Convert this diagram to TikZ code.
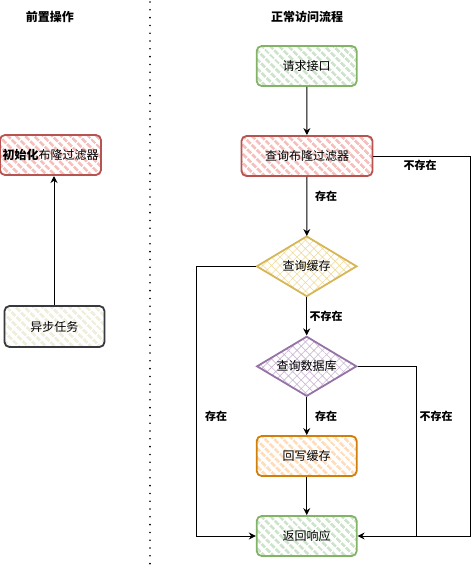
\documentclass[tikz,border=0pt]{standalone}
\usepackage{fontspec}
\setmainfont{Noto Sans CJK SC}
\usetikzlibrary{shapes.geometric,patterns.meta,arrows.meta}
\definecolor{redF}{HTML}{F5BFBC}\definecolor{redS}{HTML}{B85450}
\definecolor{grnF}{HTML}{CDE3CB}\definecolor{grnS}{HTML}{82B366}
\definecolor{yelF}{HTML}{FFF2CC}\definecolor{yelS}{HTML}{D6B656}
\definecolor{purF}{HTML}{E1D5E7}\definecolor{purS}{HTML}{9673A6}
\definecolor{orgF}{HTML}{FFDDBB}\definecolor{orgS}{HTML}{D07F0A}
\definecolor{gryF}{HTML}{F0EEDD}\definecolor{gryS}{HTML}{36393D}
\tikzset{
  box/.style={rectangle,rounded corners=5pt,line width=1.8pt,minimum width=100pt,minimum height=40pt,inner sep=0pt,font=\fontsize{12pt}{14pt}\selectfont,
    pattern={Lines[angle=-45,distance=6.4pt,line width=3pt]}},
  dia/.style={diamond,aspect=1.667,line width=1.8pt,minimum width=100pt,minimum height=60pt,inner sep=0pt,font=\fontsize{12pt}{14pt}\selectfont,
    pattern={Hatch[angle=45,distance=6pt,line width=0.6pt]}},
  redbox/.style={box,draw=redS,pattern color=redF},
  grnbox/.style={box,draw=grnS,pattern color=grnF},
  orgbox/.style={box,draw=orgS,pattern color=orgF},
  grybox/.style={box,draw=gryS,pattern color=gryF},
  arr/.style={draw=black,line width=1pt,-{Stealth[length=7pt,width=7pt]}},
  ln/.style={draw=black,line width=1pt},
  lab/.style={font=\bfseries\fontsize{11pt}{13pt}\selectfont,inner sep=0pt},
  ttl/.style={font=\bfseries\fontsize{12pt}{14pt}\selectfont,inner sep=0pt}
}
\begin{document}
\begin{tikzpicture}[x=1pt,y=-1pt]
\useasboundingbox (0,0) rectangle (475,571);
\node[ttl] (t1) at (50,17) {前置操作};
\node[ttl] (t2) at (307,17) {正常访问流程};
\coordinate (dtop) at (150,2);
\coordinate (dbot) at (150,571);
\draw[line width=1.8pt,line cap=round,dash pattern=on 0pt off 7.8pt] (dtop) -- (dbot);

\node[redbox,minimum width=101pt] (init) at (50.5,155) {{\bfseries 初始化}布隆过滤器};
\node[grybox,minimum height=41pt] (async) at (54.5,326.5) {异步任务};
\draw[arr] (async.north -| 54,0) -- (54,176);

\node[grnbox] (req) at (306.7,66) {请求接口};
\node[redbox,minimum width=131pt] (bloom) at (307,156) {查询布隆过滤器};
\node[dia,draw=yelS,pattern color=yelF!60!yelS] (cache) at (306.7,266.3) {查询缓存};
\node[dia,draw=purS,pattern color=purF!70!purS] (db) at (306.7,366.3) {查询数据库};
\node[orgbox] (wb) at (306.7,456) {回写缓存};
\node[grnbox] (resp) at (306.7,536) {返回响应};

\coordinate (rc) at (470,156);
\coordinate (lc) at (196.7,266.3);
\coordinate (dc) at (416.7,366.3);
\coordinate (dj) at (416.7,536);

\draw[arr] (req) -- (bloom);
\draw[arr] (bloom) -- (cache);
\draw[arr] (cache) -- (db);
\draw[arr] (db) -- (wb);
\draw[arr] (wb) -- (resp);
\draw[arr] (bloom.east) -- (rc) |- (resp.east);
\draw[arr] (cache.west) -- (lc) |- (resp.west);
\draw[ln] (db.east) -- (dc) -- (dj);

\node[lab] (l1) at (420,165) {不存在};
\node[lab] (l2) at (326,196.5) {存在};
\node[lab] (l3) at (326,316.7) {不存在};
\node[lab] (l4) at (216,416) {存在};
\node[lab] (l5) at (326,416) {存在};
\node[lab] (l6) at (436,416) {不存在};
\end{tikzpicture}
\end{document}
